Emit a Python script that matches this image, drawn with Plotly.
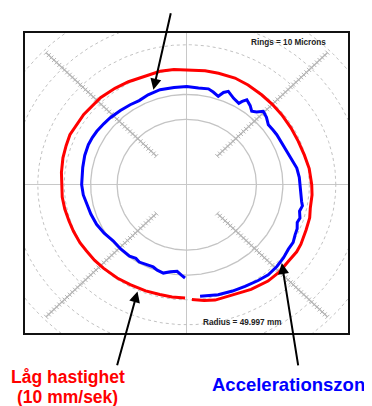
import numpy as np
import plotly.graph_objects as go

# ---- data (angles in degrees, CCW from +x; radii in plot units, 10 units = 1 ring = 10 microns)
RED_THETA = [-87.6, -82, -77, -72, -67.6, -60, -51.6, -45, -38.7, -33, -29, -22, -16, -11.4, -5, 0, 8, 15,
             22.5, 30, 38, 45, 52, 60, 67, 75, 81.4, 90, 96, 102.5, 110, 118, 125, 133, 144, 155.5, 161,
             167, 174, 180, 186, 192, 198, 203.6, 210, 215, 221, 226.8, 235, 242, 250, 257, 263, 269.2]
RED_R = [46.2, 47.0, 47.6, 47.4, 47.8, 48.6, 49.4, 49.5, 49.2, 49.5, 49.3, 48.6, 48.3, 47.6, 47.5, 47.2, 46.7, 46.0,
         45.6, 45.5, 45.6, 45.7, 45.9, 46.3, 46.6, 46.4, 46.3, 46.2, 46.6, 46.7, 46.5, 46.9, 47.3, 47.8, 48.1, 48.5, 48.2,
         48.0, 47.6, 47.2, 47.3, 47.1, 46.8, 46.7, 46.6, 46.3, 46.2, 46.0, 45.8, 45.5, 45.4, 45.3, 45.5, 45.5]

BLUE_THETA = [-83.6, -75, -68, -61.7, -55, -49.6, -44, -38.9, -34, -30, -26.2, -23, -20, -17.4, -14, -11, -8.8,
              -5, 0, 4, 9.2, 14, 18, 21.7, 26, 30.6, 34, 38, 42, 45.6, 48, 50.3, 53, 56.4, 58, 59, 63, 67.3,
              69.5, 71.5, 75, 78, 83.5, 90, 97, 104.8, 112, 118, 123.6, 130, 137, 142, 147.7, 152, 156.6,
              163, 170, 175, 180, 186, 192, 198, 205, 212, 219, 226, 233, 237, 240, 245, 249, 252, 256,
              260, 264, 267, 269]
BLUE_R = [45.1, 45.8, 46.1, 46.4, 47.0, 47.5, 47.3, 46.9, 46.3, 46.4, 45.6, 45.3, 44.4, 44.8, 43.9, 44.5, 43.9,
          43.3, 42.8, 42.6, 42.1, 41.0, 40.3, 39.9, 39.7, 39.5, 39.3, 39.1, 40.5, 41.3, 39.4, 38.4, 39.8, 41.0, 39.5,
          38.2, 39.0, 40.7, 39.6, 37.5, 38.6, 39.4, 39.1, 39.5, 39.4, 39.5, 39.0, 38.3, 38.6, 39.0, 39.5, 39.8,
          40.2, 40.4, 40.5, 40.3, 39.9, 39.7, 39.7, 39.3, 38.6, 38.1, 37.6, 36.8, 35.8, 35.9, 35.9, 35.3, 35.9,
          35.5, 35.4, 36.1, 36.6, 35.5, 35.0, 36.5, 37.5]

RINGS = [26.3, 36.3, 46.3, 56.3, 66.3, 76.3, 86.3]
RING_SOLID = [True, True, False, False, False, False, False]
SPOKE_ANGLES = [45, 135, 225, 315]
SPOKE_SYMBOLS = ["line-nw", "line-ne", "line-nw", "line-ne"]
SPOKE_R0, SPOKE_R1 = 16.3, 76.3

RINGS_LABEL = "Rings = 10 Microns"
RADIUS_LABEL = "Radius = 49.997 mm"
RED_LABEL_1 = "Låg hastighet"
RED_LABEL_2 = "(10 mm/sek)"
BLUE_LABEL = "Accelerationszon"


def pol2xy(theta_deg, r):
    t = np.radians(np.asarray(theta_deg, dtype=float))
    r = np.asarray(r, dtype=float)
    return r * np.cos(t), r * np.sin(t)


fig = go.Figure()

# rings
circ = np.linspace(0, 360, 721)
for rr, solid in zip(RINGS, RING_SOLID):
    x, y = pol2xy(circ, np.full_like(circ, rr))
    fig.add_trace(go.Scatter(
        x=x, y=y, mode="lines", hoverinfo="skip",
        line=dict(color="#c4c4c4" if solid else "#c2c2c2", width=1.3 if solid else 1.0,
                  dash="solid" if solid else "dot")))

# tick-marked spokes
spoke_r = np.arange(SPOKE_R0, SPOKE_R1 + 0.01, 1.4)
for ang, sym in zip(SPOKE_ANGLES, SPOKE_SYMBOLS):
    x, y = pol2xy(np.full_like(spoke_r, ang), spoke_r)
    fig.add_trace(go.Scatter(
        x=x, y=y, mode="lines+markers", hoverinfo="skip",
        line=dict(color="#b4b4b4", width=1.4),
        marker=dict(symbol=sym, size=4, line=dict(color="#b4b4b4", width=1))))

# measured profiles
x, y = pol2xy(RED_THETA, RED_R)
fig.add_trace(go.Scatter(x=x, y=y, mode="lines", line=dict(color="#ff0000", width=3), name="red"))
x, y = pol2xy(BLUE_THETA, BLUE_R)
fig.add_trace(go.Scatter(x=x, y=y, mode="lines", line=dict(color="#0000ff", width=3), name="blue"))

ax_common = dict(showgrid=False, showticklabels=False, ticks="", zeroline=True,
                 zerolinecolor="#c8c8c8", zerolinewidth=1.2,
                 showline=True, mirror=True, linecolor="#111111", linewidth=2, fixedrange=True)
fig.update_xaxes(range=[-61.1, 60.9], **ax_common)
fig.update_yaxes(range=[-59.6, 61.0], **ax_common)

font_small = dict(family="Liberation Sans, Arial, sans-serif", size=8.2, color="#222222")
font_big = "Liberation Sans, Arial, sans-serif"

annotations = [
    dict(text="<b>%s</b>" % RINGS_LABEL, xref="paper", yref="paper", x=0.8173, y=0.9667,
         xanchor="center", yanchor="middle", showarrow=False, font=font_small),
    dict(text="<b>%s</b>" % RADIUS_LABEL, xref="paper", yref="paper", x=0.6734, y=0.035,
         xanchor="center", yanchor="middle", showarrow=False, font=font_small),
    dict(text="<b>%s</b>" % RED_LABEL_1, xref="paper", yref="paper", x=0.1331, y=-0.148,
         xanchor="center", yanchor="middle", showarrow=False,
         font=dict(family=font_big, size=17.5, color="#ff0000")),
    dict(text="<b>%s</b>" % RED_LABEL_2, xref="paper", yref="paper", x=0.1331, y=-0.2135,
         xanchor="center", yanchor="middle", showarrow=False,
         font=dict(family=font_big, size=17.5, color="#ff0000")),
    dict(text="<b>%s</b>" % BLUE_LABEL, xref="paper", yref="paper", x=0.8143, y=-0.17,
         xanchor="center", yanchor="middle", showarrow=False,
         font=dict(family=font_big, size=18.5, color="#0000ff")),
    # arrows (head at data point, tail offset in pixels)
    dict(text="", x=-12.6, y=38.2, xref="x", yref="y", ax=17.7, ay=-78, showarrow=True,
         arrowhead=2, arrowsize=1.1, arrowwidth=2, arrowcolor="#000000", standoff=0),
    dict(text="", x=-18.6, y=-42.9, xref="x", yref="y", ax=-20.8, ay=75.2, showarrow=True,
         arrowhead=2, arrowsize=1.1, arrowwidth=2, arrowcolor="#000000", standoff=0),
    dict(text="", x=35.9, y=-31.5, xref="x", yref="y", ax=16.6, ay=103.7, showarrow=True,
         arrowhead=2, arrowsize=1.1, arrowwidth=2, arrowcolor="#000000", standoff=0),
]

# the page adds an 8px body margin, so the figure is 8px smaller and margins shifted
fig.update_layout(
    width=364, height=398,
    margin=dict(l=17, r=24, t=25, b=73, pad=0),
    paper_bgcolor="white", plot_bgcolor="white",
    showlegend=False, annotations=annotations,
)

fig.write_html("out.html")
